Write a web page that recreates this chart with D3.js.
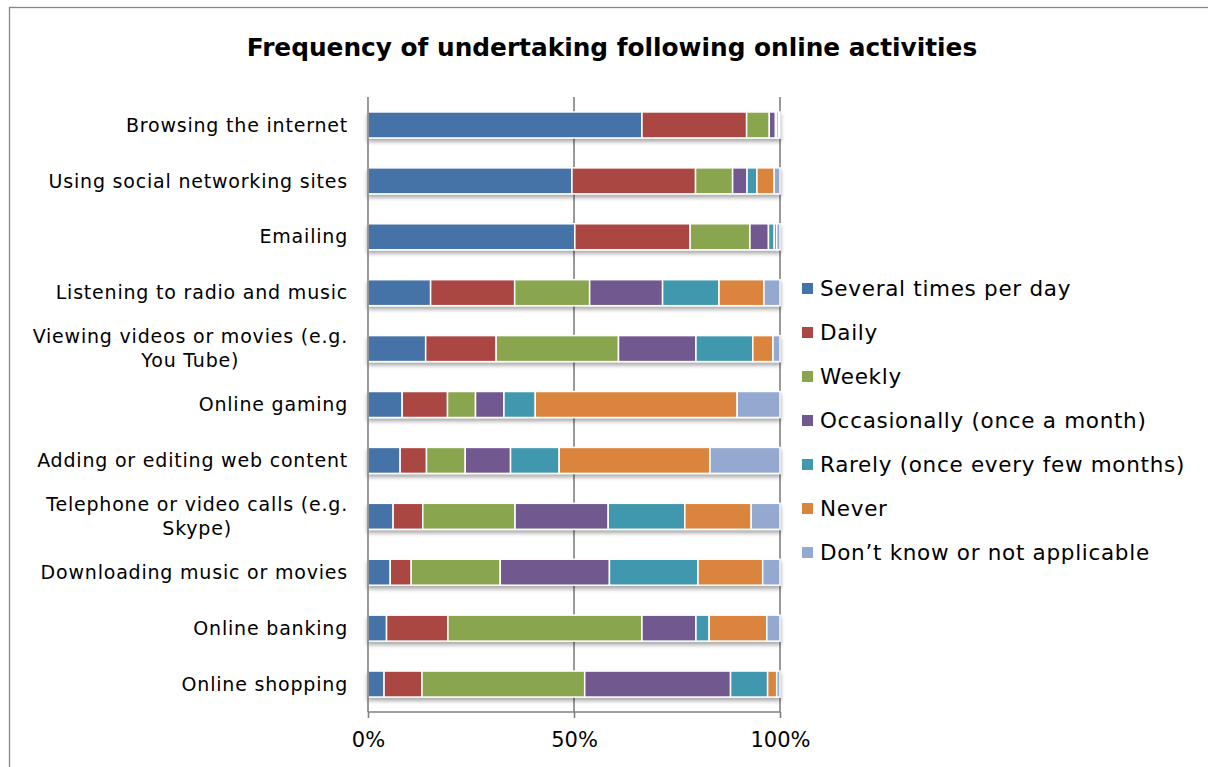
<!DOCTYPE html>
<html><head><meta charset="utf-8">
<script src="https://cdn.jsdelivr.net/npm/d3@7"></script>
<style>body{margin:0;background:#fff;} svg{display:block;}</style>
</head><body>
<svg id="chart" width="1208" height="767"></svg>
<script>
const categories = [
  ["Browsing the internet"],
  ["Using social networking sites"],
  ["Emailing"],
  ["Listening to radio and music"],
  ["Viewing videos or movies (e.g.", "You Tube)"],
  ["Online gaming"],
  ["Adding or editing web content"],
  ["Telephone or video calls (e.g.", "Skype)"],
  ["Downloading music or movies"],
  ["Online banking"],
  ["Online shopping"]
];
const seriesNames = ["Several times per day","Daily","Weekly","Occasionally (once a month)","Rarely (once every few months)","Never","Don\u2019t know or not applicable"];
const seriesColors = ["#4572A7","#AA4643","#89A54E","#71588F","#4198AF","#DB843D","#93A9CF"];
const severalTimes = [66.5,49.5,50.2,15.2,14.0,8.3,7.8,6.1,5.4,4.5,3.9];
const daily        = [25.4,30.0,28.0,20.4,17.1,11.0,6.4,7.2,5.1,14.9,9.2];
const weekly       = [5.5,9.0,14.5,18.2,29.7,6.8,9.4,22.4,21.6,47.1,39.5];
const occasionally = [1.5,3.5,4.5,17.7,18.8,6.9,11.0,22.6,26.5,13.1,35.4];
const rarely       = [0.3,2.4,1.4,13.7,13.8,7.6,11.8,18.6,21.5,3.2,9.0];
const never        = [0.5,4.2,0.6,10.9,4.9,49.0,36.6,16.1,15.7,14.0,2.2];
const dontKnow     = [0.3,1.4,0.8,3.9,1.7,10.4,17.0,7.0,4.2,3.2,0.8];
const tickValues = [0, 0.5, 1];
const tickLabels = ["0%","50%","100%"];
const title = "Frequency of undertaking following online activities";

const seriesData = [severalTimes,daily,weekly,occasionally,rarely,never,dontKnow];
const FONT = "'DejaVu Sans', sans-serif";
const svg = d3.select("#chart");

// frame
svg.append("rect").attr("x",9.5).attr("y",7.5).attr("width",1230).attr("height",800)
  .attr("fill","#fff").attr("stroke","#868686").attr("stroke-width",1.3);

// title
svg.append("text").attr("x",612).attr("y",56).attr("text-anchor","middle")
  .attr("font-family",FONT).attr("font-weight","bold").attr("font-size",24.8)
  .attr("fill","#000").text(title);

const pLeft = 368, pRight = 780, pTop = 97, pBottom = 712;
const x = d3.scaleLinear().domain([0,1]).range([pLeft,pRight]);
const y = d3.scaleBand().domain(d3.range(categories.length)).range([pTop,pBottom]).paddingInner(0.535).paddingOuter(0.2675);

const rows = categories.map((c,i)=>{
  const vals = seriesData.map(s=>s[i]);
  const tot = d3.sum(vals);
  let acc = 0;
  return vals.map((v,k)=>{ const s = acc/tot; acc += v; return {row:i,k,x0:s,x1:acc/tot}; });
});

const defs = svg.append("defs");
const f = defs.append("filter").attr("id","shadow").attr("x","-5%").attr("y","-30%").attr("width","110%").attr("height","190%");
f.append("feGaussianBlur").attr("in","SourceAlpha").attr("stdDeviation",2).attr("result","b");
f.append("feOffset").attr("in","b").attr("dx",0).attr("dy",3).attr("result","o");
f.append("feComponentTransfer").attr("in","o").attr("result","o2").append("feFuncA").attr("type","linear").attr("slope",0.35);
const m = f.append("feMerge"); m.append("feMergeNode").attr("in","o2"); m.append("feMergeNode").attr("in","SourceGraphic");

// gridlines
svg.append("g").selectAll("line").data([0.5,1]).join("line")
  .attr("x1",d=>x(d)).attr("x2",d=>x(d)).attr("y1",pTop).attr("y2",pBottom)
  .attr("stroke","#808080").attr("stroke-width",1.6);

// bars
const g = svg.append("g").attr("filter","url(#shadow)");
rows.forEach((r,i)=>{
  g.append("g").selectAll("rect").data(r).join("rect")
    .attr("x",d=>x(d.x0)).attr("width",d=>Math.max(0,x(d.x1)-x(d.x0)))
    .attr("y",y(i)).attr("height",y.bandwidth())
    .attr("fill",d=>seriesColors[d.k]).attr("stroke","#fff").attr("stroke-width",1.5);
});

// axes
const xAxis = d3.axisBottom(x).tickValues(tickValues).tickFormat((d,i)=>tickLabels[i]).tickSize(6).tickPadding(14);
const ax = svg.append("g").attr("transform",`translate(0,${pBottom})`).call(xAxis);
ax.select(".domain").attr("stroke","#808080").attr("stroke-width",1.6).attr("d",`M${pLeft},0H${pRight}`);
ax.selectAll(".tick line").attr("stroke","#808080").attr("stroke-width",1.6);
ax.selectAll("text").attr("font-family",FONT).attr("font-size",21).attr("fill","#000");
svg.append("line").attr("x1",pLeft).attr("x2",pLeft).attr("y1",pTop).attr("y2",pBottom)
  .attr("stroke","#808080").attr("stroke-width",1.6);

// category labels (multi-line labels: block right-aligned, lines centred within block)
const labelRight = 348;
categories.forEach((lines,i)=>{
  const cy = y(i)+y.bandwidth()/2;
  const n = lines.length, lh = 24;
  const tg = svg.append("g");
  const texts = lines.map((t,j)=> tg.append("text").attr("y", cy + (j-(n-1)/2)*lh)
      .attr("dy","0.35em").attr("font-family",FONT).attr("font-size",19)
      .attr("letter-spacing",0.8).attr("fill","#000").text(t));
  if (n === 1) {
    texts[0].attr("x",labelRight).attr("text-anchor","end");
  } else {
    const w = d3.max(texts, t=>t.node().getComputedTextLength());
    texts.forEach(t=>t.attr("x",labelRight - w/2).attr("text-anchor","middle"));
  }
});

// legend
const lg = svg.append("g");
seriesNames.forEach((name,k)=>{
  const cy = 288 + k*44;
  lg.append("rect").attr("x",802).attr("y",cy-5).attr("width",11).attr("height",11).attr("fill",seriesColors[k]);
  lg.append("text").attr("x",820).attr("y",cy).attr("dy","0.38em")
    .attr("font-family",FONT).attr("font-size",21.5).attr("letter-spacing",0.7).attr("fill","#000").text(name);
});
</script>
</body></html>
